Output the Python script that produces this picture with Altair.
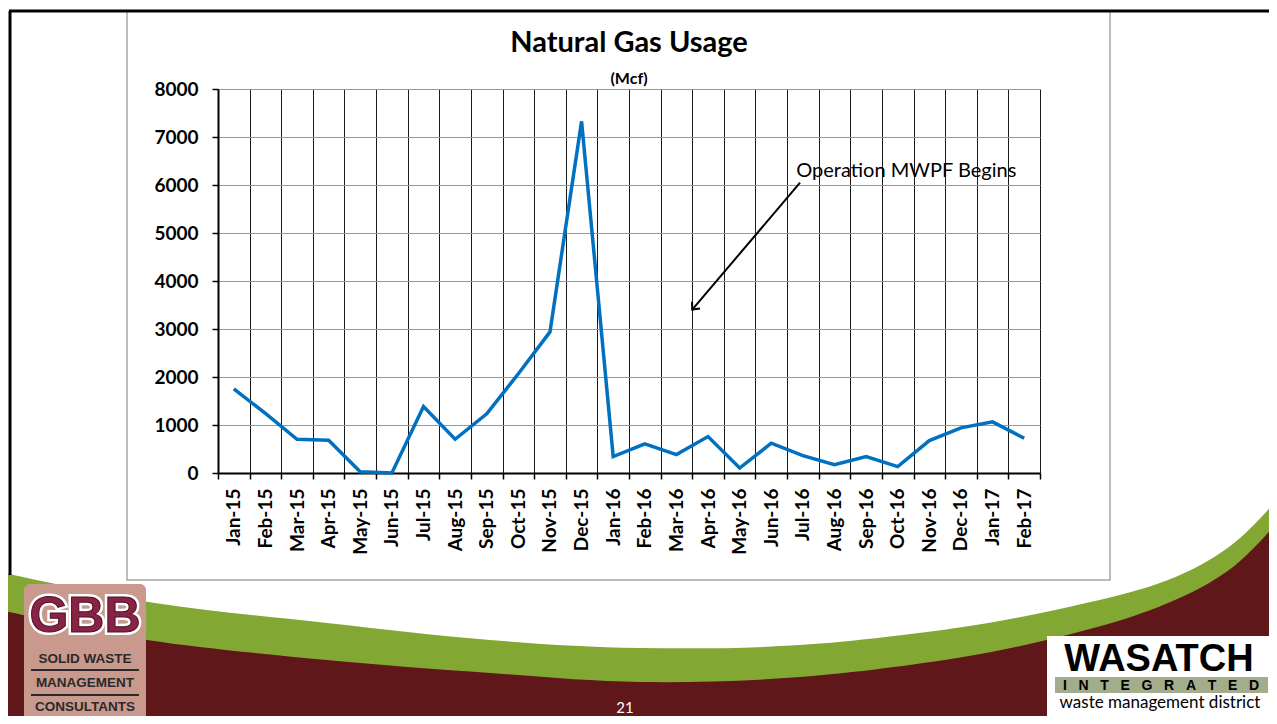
import altair as alt
import pandas as pd

# ---------------- data ----------------
months = ["Jan-15", "Feb-15", "Mar-15", "Apr-15", "May-15", "Jun-15", "Jul-15",
          "Aug-15", "Sep-15", "Oct-15", "Nov-15", "Dec-15", "Jan-16", "Feb-16",
          "Mar-16", "Apr-16", "May-16", "Jun-16", "Jul-16", "Aug-16", "Sep-16",
          "Oct-16", "Nov-16", "Dec-16", "Jan-17", "Feb-17"]
usage = [1755, 1240, 703, 682, 28, 0, 1386, 703, 1233, 2068, 2939, 7326, 343,
         606, 383, 759, 104, 620, 362, 174, 341, 132, 675, 940, 1065, 724]
y_ticks = [0, 1000, 2000, 3000, 4000, 5000, 6000, 7000, 8000]

title_text = "Natural Gas Usage"
subtitle_text = "(Mcf)"
note_text = "Operation MWPF Begins"
# arrow: start (near note) -> tip, in month-slot / Mcf units
arrow_x = [18.41, 15.0]
arrow_y = [6049, 3404]
note_x = [18.29]
note_y = [6168]

n = len(months)
df = pd.DataFrame({"pos": [i + 0.5 for i in range(n)], "month": months, "usage": usage})
arrow_df = pd.DataFrame({"x": arrow_x, "y": arrow_y, "order": [0, 1]})
tip_df = pd.DataFrame({"x": arrow_x[1:], "y": arrow_y[1:]})
note_df = pd.DataFrame({"x": note_x, "y": note_y, "t": [note_text]})
one = pd.DataFrame({"a": [0]})

W, H = 822, 384
OX, OY = 218, 89          # page position of the plot origin
band = W / n

label_expr = ("datum.value < %d ? [%s][datum.value] : ''"
              % (n, ",".join("'%s'" % m for m in months)))

xscale = alt.Scale(domain=[0, n], nice=False, zero=False)
yscale = alt.Scale(domain=[0, 8000], nice=False)

x_axis = alt.Axis(values=list(range(n + 1)), labelExpr=label_expr, labelAngle=270,
                  labelOffset=band / 2, labelPadding=9, labelFont="Lato",
                  labelFontSize=19, labelFontWeight="bold", labelColor="black",
                  labelFlush=False, labelOverlap=False, grid=True, gridColor="#1a1a1a",
                  gridWidth=1, tickColor="black", tickSize=6, tickWidth=1.5,
                  domainColor="black", domainWidth=2, title=None)
y_axis = alt.Axis(values=y_ticks, format="d", labelFont="Lato",
                  labelFontSize=19, labelFontWeight="bold", labelColor="black",
                  labelPadding=14, grid=True, gridColor="#9a9a9a", gridWidth=1,
                  tickColor="black", tickSize=6, tickWidth=1.5, domainColor="black",
                  domainWidth=2, title=None, labelFlush=False)


def X(field):
    return alt.X(field, scale=xscale, axis=x_axis)


def Y(field):
    return alt.Y(field, scale=yscale, axis=y_axis)


def px(v):   # page x -> plot-relative pixel
    return alt.value(v - OX)


def py(v):   # page y -> plot-relative pixel
    return alt.value(v - OY)


# ---------------- slide template decoration (pixel geometry) ----------------
green_top = [(-20, 566), (0, 572), (155, 603), (327, 623), (490, 640), (640, 648),
             (800, 645), (963, 627), (1086, 603), (1168, 580), (1229, 547),
             (1277, 500), (1300, 470)]
maroon_top = [(-20, 606), (0, 610), (147, 640), (327, 660), (490, 673), (640, 682),
              (800, 677), (963, 657), (1086, 630), (1168, 603), (1229, 570),
              (1277, 523), (1300, 495)]


def smooth_path(pts):
    q = [(a - OX, b - OY) for a, b in pts]
    s = "M%.1f,%.1f" % q[0]
    for i in range(len(q) - 1):
        p0 = q[i - 1] if i > 0 else q[i]
        p1, p2 = q[i], q[i + 1]
        p3 = q[i + 2] if i + 2 < len(q) else q[i + 1]
        c1 = (p1[0] + (p2[0] - p0[0]) / 6, p1[1] + (p2[1] - p0[1]) / 6)
        c2 = (p2[0] - (p3[0] - p1[0]) / 6, p2[1] - (p3[1] - p1[1]) / 6)
        s += "C%.1f,%.1f %.1f,%.1f %.1f,%.1f" % (c1 + c2 + p2)
    s += "L%.1f,%.1f" % (1300 - OX, 740 - OY)
    s += "L%.1f,%.1f" % (-20 - OX, 740 - OY)
    return s + "Z"


def shape_layer(pts, color):
    # custom symbol path at size 4 => path units are pixels
    return alt.Chart(one).mark_point(shape=smooth_path(pts), size=4, filled=True,
                                     color=color, opacity=1, strokeWidth=0).encode(
        x=alt.value(0), y=alt.value(0))


green = shape_layer(green_top, "#83a733")
maroon = shape_layer(maroon_top, "#5f1719")


def rect(x1, y1, x2, y2, **kw):
    return alt.Chart(one).mark_rect(**kw).encode(
        x=px(x1), x2=px(x2), y=py(y1), y2=py(y2))


def text(t, x, y, **kw):
    return alt.Chart(one).mark_text(text=t, **kw).encode(x=px(x), y=py(y))


def hrule(x1, x2, y, color, w):
    return alt.Chart(one).mark_rule(color=color, strokeWidth=w).encode(
        x=px(x1), x2=px(x2), y=py(y))


box = rect(127, 11, 1110, 580, fill="transparent", stroke="#a6a6a6", strokeWidth=1.5)
top_border = hrule(9, 1277, 11, "black", 3)
left_border = alt.Chart(one).mark_rule(color="black", strokeWidth=3).encode(
    x=px(10), y=py(11), y2=py(575))

gbb_font = "Liberation Sans"
gbb_bg = rect(24, 584, 146, 724, fill="#c9998d", cornerRadius=6)
gbb_halo = text("GBB", 85, 632, font=gbb_font, fontSize=50, fontWeight="bold",
                color="white", stroke="white", strokeWidth=6, align="center",
                baseline="alphabetic")
gbb = text("GBB", 85, 632, font=gbb_font, fontSize=50, fontWeight="bold",
           color="#8a2245", stroke="#4a1024", strokeWidth=1, align="center",
           baseline="alphabetic")
gbb_l1 = text("SOLID WASTE", 85, 663, font="Liberation Sans", fontSize=13.5,
              fontWeight="bold", color="#2a2a2a", align="center", baseline="alphabetic")
gbb_l2 = text("MANAGEMENT", 85, 687, font="Liberation Sans", fontSize=13.5,
              fontWeight="bold", color="#2a2a2a", align="center", baseline="alphabetic")
gbb_l3 = text("CONSULTANTS", 85, 711, font="Liberation Sans", fontSize=13.5,
              fontWeight="bold", color="#2a2a2a", align="center", baseline="alphabetic")
gbb_r1 = hrule(31, 139, 670, "#2a2a2a", 2)
gbb_r2 = hrule(31, 139, 695, "#2a2a2a", 2)

NB = "\u00a0"
integrated = (NB * 3).join("INTEGRATED")

was_bg = rect(1047, 636, 1280, 730, fill="white")
was_t = text("WASATCH", 1159, 671, font="Liberation Sans", fontSize=38,
             fontWeight="bold", color="black", align="center", baseline="alphabetic")
int_bg = rect(1055, 677, 1268, 693, fill="#a3ad8b")
int_t = text(integrated, 1161, 690, font="Liberation Sans",
             fontSize=14, fontWeight="bold", color="black", align="center",
             baseline="alphabetic")
wmd_t = text("waste management district", 1160, 708, font="Lato", fontSize=17,
             color="black", align="center", baseline="alphabetic")
page_no = text("21", 625, 713, font="Lato", fontSize=15, color="white",
               align="center", baseline="alphabetic")

# ---------------- chart ----------------
line = alt.Chart(df).mark_line(color="#0070C0", strokeWidth=3.5).encode(
    x=X("pos:Q"), y=Y("usage:Q"))

arrow = alt.Chart(arrow_df).mark_line(color="black", strokeWidth=2).encode(
    x=X("x:Q"), y=Y("y:Q"), order="order:Q")
tip = alt.Chart(tip_df).mark_point(
    shape="M-0.7,0.8L0,0L0.7,0.8", filled=False, stroke="black", strokeWidth=2,
    size=220, angle=220, opacity=1).encode(x=X("x:Q"), y=Y("y:Q"))
note = alt.Chart(note_df).mark_text(font="Lato", fontSize=20, color="black",
                                    align="left", baseline="alphabetic").encode(
    x=X("x:Q"), y=Y("y:Q"), text="t:N")

title = alt.Chart(one).mark_text(font="Lato", fontSize=29, fontWeight="bold",
                                 color="black", align="center", baseline="alphabetic",
                                 text=title_text).encode(
    x=alt.value(W / 2), y=alt.value(-37))
subtitle = alt.Chart(one).mark_text(font="Lato", fontSize=16, fontWeight="bold",
                                    color="black", align="center", baseline="alphabetic",
                                    text=subtitle_text).encode(
    x=alt.value(W / 2), y=alt.value(-5))

chart = alt.layer(
    line, arrow, tip, note,
    green, maroon, box, top_border, left_border,
    gbb_bg, gbb_halo, gbb, gbb_l1, gbb_l2, gbb_l3, gbb_r1, gbb_r2,
    was_bg, was_t, int_bg, int_t, wmd_t, page_no,
    title, subtitle,
).properties(
    width=W, height=H,
    autosize=alt.AutoSizeParams(type="none"),
    padding={"left": 210, "top": 81, "right": 229, "bottom": 243},
    background="white",
).configure_view(strokeWidth=0)

chart.save("out.html", embed_options={"renderer": "svg", "actions": False})
